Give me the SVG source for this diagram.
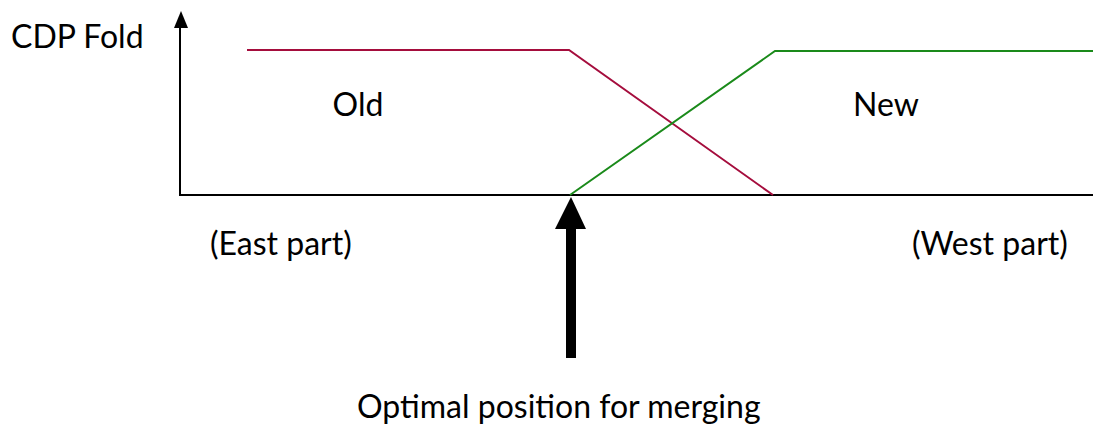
<svg xmlns="http://www.w3.org/2000/svg" width="1093" height="435" viewBox="0 0 1093 435">
<style>
text{font-family:Lato,"Liberation Sans",sans-serif;font-size:32px;fill:#000}
.ax{stroke:#000;stroke-width:2;fill:none}
.old{stroke:#a50d3d;stroke-width:2;fill:none}
.new{stroke:#1a8a1a;stroke-width:2;fill:none}
</style>
<g id="connectors">
<path class="ax" d="M180,195 H1093"/>
<path class="ax" d="M180,196 V28"/>
<path d="M174,28 L181,11 L188,28 Z" fill="#000"/>
<path class="old" d="M247,50 H569 L773,195"/>
<path class="new" d="M570,195 L775,51 H1093"/>
<path d="M571,197 L586,229 L576,229 L576,358 L566,358 L566,229 L555,229 Z" fill="#000"/>
</g>
<g id="labels">
<text x="11" y="48">CDP Fold</text>
<text x="358" y="116" text-anchor="middle">Old</text>
<text x="886" y="116" text-anchor="middle">New</text>
<text x="210" y="255">(East part)</text>
<text x="912" y="255">(West part)</text>
<text x="357" y="418">Optimal position for merging</text>
</g>
</svg>
